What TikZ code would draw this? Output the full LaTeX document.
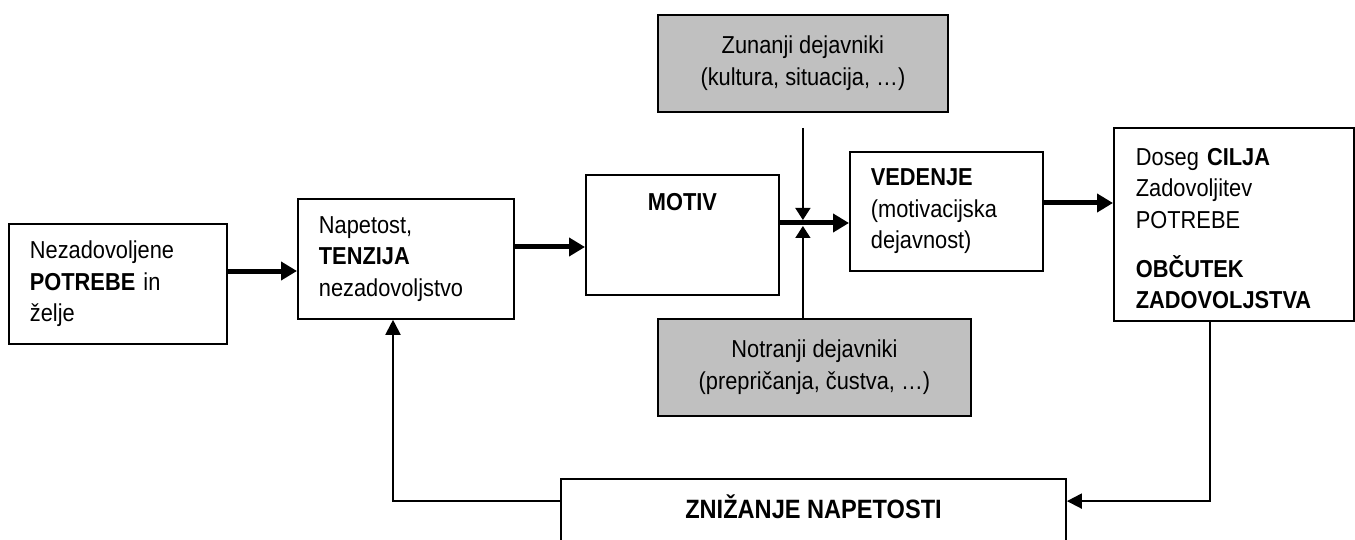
\documentclass[tikz,border=0pt]{standalone}
\usepackage{fontspec}
\setmainfont{Liberation Sans}[FakeStretch=0.89]
\usetikzlibrary{arrows.meta}
\definecolor{boxgray}{RGB}{192,192,192}
\begin{document}
\begin{tikzpicture}[x=1pt,y=-1pt,
  font=\fontsize{24.5}{31.5}\selectfont,
  box/.style={draw=black, line width=1.8pt, anchor=north west, inner ysep=0pt, align=left},
  gbox/.style={box, fill=boxgray, align=center, inner xsep=0pt},
  fat/.style={line width=5pt, -{Triangle[length=16pt,width=18pt]}},
  arr/.style={line width=2pt, -{Triangle[length=15pt,width=15pt]}},
  jarr/.style={line width=1.5pt, -{Triangle[length=12pt,width=15pt]}}]
\useasboundingbox (0,0) rectangle (1355,540);
\clip (0,0) rectangle (1355,540);
\fill[white] (0,0) rectangle (1355,540);

\node[box, minimum height=120pt, text width=176pt, inner xsep=21pt] (b1) at (8,223)
  {Nezadovoljene\\\textbf{POTREBE} in\\želje};
\node[box, minimum height=120pt, text width=174pt, inner xsep=21pt] (b2) at (297,198)
  {Napetost,\\\textbf{TENZIJA}\\nezadovoljstvo};
\node[box, align=center, minimum width=193pt, inner xsep=0pt, text height=36pt, text depth=84pt] (mot) at (585,174)
  {\textbf{MOTIV}};
\node[box, minimum height=119pt, text width=151pt, inner xsep=21pt] (ved) at (849,151)
  {\textbf{VEDENJE}\\(motivacijska\\dejavnost)};
\node[box, minimum height=193pt, text width=196pt, inner xsep=22pt] (rb) at (1113,127)
  {\rule{0pt}{25pt}Doseg \textbf{CILJA}\\Zadovoljitev\\POTREBE\\[17.5pt]\textbf{OBČUTEK}\\\textbf{ZADOVOLJSTVA}};
\node[gbox, minimum width=290pt, minimum height=97pt] (zun) at (657,14)
  {Zunanji dejavniki\\(kultura, situacija, …)};
\node[gbox, minimum width=313pt, minimum height=97pt] (nod) at (657,318)
  {Notranji dejavniki\\(prepričanja, čustva, …)};
\node[box, anchor=base, align=center, minimum width=505pt, inner xsep=0pt, text height=39pt, text depth=80pt, font=\fontsize{26.5}{31.5}\selectfont] (bot) at (813.5,518)
  {\textbf{ZNIŽANJE NAPETOSTI}};

\coordinate (a1) at ([yshift=-48pt]b1.north east);
\draw[fat] (a1) -- (a1 -| b2.west);
\coordinate (a2) at ([yshift=-49pt]b2.north east);
\draw[fat] (a2) -- (a2 -| mot.west);
\coordinate (a3) at ([yshift=-49pt]mot.north east);
\draw[fat] (a3) -- (a3 -| ved.west);
\coordinate (a4) at ([yshift=-52pt]ved.north east);
\draw[fat] (a4) -- (a4 -| rb.west);

\coordinate (j) at (a3 -| zun.south);
\coordinate (jt) at ([yshift=3pt]j);
\coordinate (jb) at ([yshift=-3pt]j);
\draw[jarr] ([yshift=-15pt]zun.south) -- (jt);
\draw[jarr] (nod.north -| j) -- (jb);

\coordinate (r1) at ([xshift=97pt]rb.south west);
\draw[arr] (r1) |- ([yshift=-23pt]bot.north east);
\coordinate (f1) at ([xshift=96pt]b2.south west);
\draw[arr] ([yshift=-23pt]bot.north west) -| (f1);
\end{tikzpicture}
\end{document}
